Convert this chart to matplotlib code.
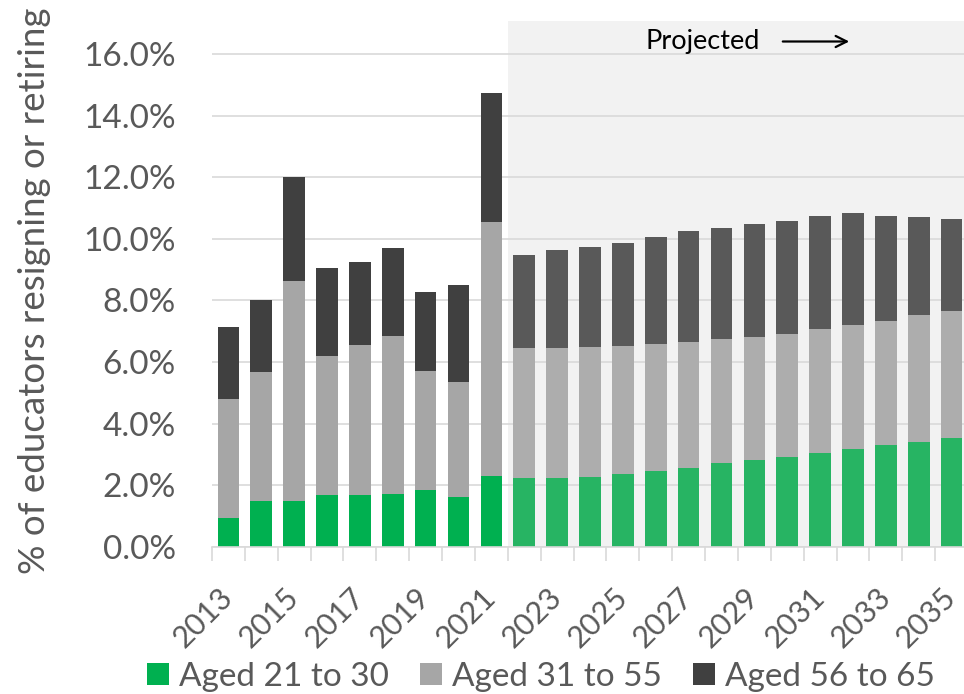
import matplotlib
matplotlib.use("Agg")
import matplotlib.pyplot as plt
import numpy as np
from matplotlib.ticker import FuncFormatter, FixedLocator
from matplotlib.patches import Patch

years = list(range(2013, 2036))
aged_21_30 = [0.92, 1.48, 1.48, 1.69, 1.69, 1.72, 1.85, 1.62, 2.31,
              2.23, 2.23, 2.26, 2.37, 2.47, 2.57, 2.72, 2.81, 2.91, 3.03, 3.17, 3.30, 3.40, 3.54]
aged_31_55 = [3.88, 4.18, 7.15, 4.51, 4.85, 5.12, 3.84, 3.73, 8.22,
              4.22, 4.22, 4.22, 4.15, 4.11, 4.08, 4.01, 4.00, 4.00, 4.03, 4.03, 4.02, 4.12, 4.11]
aged_56_65 = [2.33, 2.34, 3.38, 2.84, 2.69, 2.87, 2.57, 3.14, 4.20,
              3.01, 3.17, 3.25, 3.33, 3.47, 3.60, 3.61, 3.68, 3.66, 3.68, 3.62, 3.43, 3.18, 2.98]
first_projected_year = 2022
series_labels = ["Aged 21 to 30", "Aged 31 to 55", "Aged 56 to 65"]

hist_colors = ["#00B050", "#A6A6A6", "#404040"]
proj_colors = ["#27B463", "#ADADAD", "#595959"]

FONT = "Lato"
TXT = "#595959"

W, H = 964, 694
fig = plt.figure(figsize=(W / 100, H / 100), dpi=100)
ax = fig.add_axes([212 / W, 1 - 546.7 / H, (968 - 212) / W, (546.7 - 21) / H])

x = np.arange(len(years))
proj = np.array([y >= first_projected_year for y in years])
p0 = int(np.argmax(proj))

ax.axvspan(p0 - 0.5, len(years) - 0.5, color="#F2F2F2", zorder=0, lw=0)

g = np.array(aged_21_30)
m = np.array(aged_31_55)
o = np.array(aged_56_65)
segs = [(g, np.zeros_like(g)), (m, g), (o, g + m)]
for i, (vals, bottom) in enumerate(segs):
    cols = [proj_colors[i] if p else hist_colors[i] for p in proj]
    ax.bar(x, vals, bottom=bottom, width=0.66, color=cols, zorder=3, lw=0)

ax.set_xlim(-0.5, len(years) - 0.5)
ax.set_ylim(0, 17.07)
ax.set_yticks(np.arange(0, 16.01, 2))
ax.yaxis.set_major_formatter(FuncFormatter(lambda v, p: f"{v:.1f}%"))
ax.grid(axis="y", color="#D9D9D9", lw=1.2, zorder=1)
ax.set_axisbelow(False)
for s in ["top", "right", "left"]:
    ax.spines[s].set_visible(False)
ax.spines["bottom"].set_color("#D9D9D9")
ax.spines["bottom"].set_linewidth(1.2)
ax.spines["bottom"].set_zorder(4)

ax.set_xticks(x[::2])
ax.set_xticklabels([str(y) for y in years[::2]], rotation=45, ha="right", va="center",
                   rotation_mode="anchor", fontsize=22, color=TXT, family=FONT)
ax.xaxis.set_minor_locator(FixedLocator(np.arange(-0.5, len(years), 1)))
ax.tick_params(axis="x", which="major", length=0, pad=33)
ax.tick_params(axis="x", which="minor", length=10, color="#D9D9D9", width=1.2)
ax.tick_params(axis="y", length=0, pad=26, labelsize=24, labelcolor=TXT)
for lab in ax.get_yticklabels():
    lab.set_family(FONT)

fig.text(35 / W, 1 - 291 / H, "% of educators resigning or retiring", rotation=90,
         ha="center", va="center", fontsize=26.5, color=TXT, family=FONT)

fig.text(645 / W, 1 - 41 / H, "Projected", fontsize=19.5,
         family=FONT, color="black", ha="left", va="center")
ax.annotate("", xy=(852 / W, 1 - 41.5 / H), xytext=(780 / W, 1 - 41.5 / H),
            xycoords="figure fraction",
            arrowprops=dict(arrowstyle="->", color="black", lw=1.6, mutation_scale=20))

handles = [Patch(facecolor=c, edgecolor="none") for c in hist_colors]
fig.legend(handles, series_labels, loc="center", bbox_to_anchor=(541 / W, 1 - 677 / H),
           ncol=3, frameon=False, prop={"family": FONT, "size": 24},
           labelcolor=TXT, handlelength=0.65, handleheight=0.65,
           handletextpad=0.3, columnspacing=0.95, borderpad=0)

fig.savefig("out.png", dpi=100)
